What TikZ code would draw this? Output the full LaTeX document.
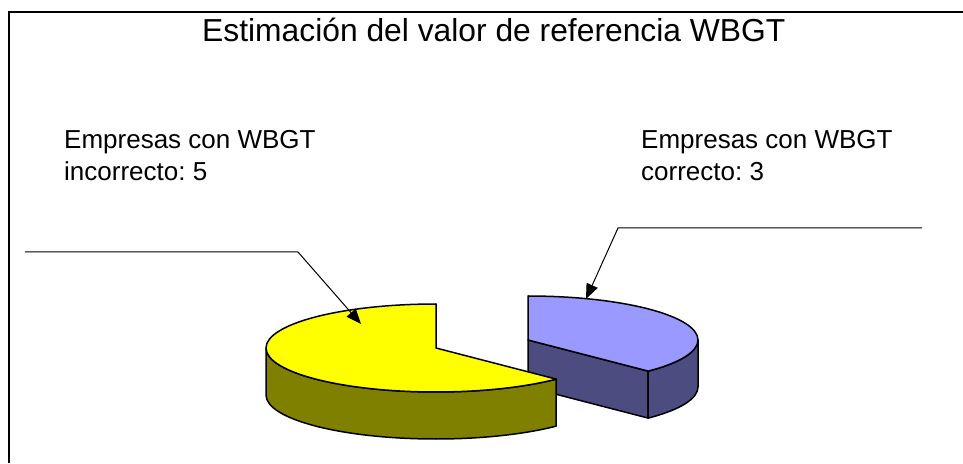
\documentclass[tikz,border=0pt]{standalone}
\usepackage{fontspec}
\setmainfont{Liberation Sans}
\usetikzlibrary{arrows.meta}
\frenchspacing
\definecolor{amarillo}{HTML}{FFFF00}
\definecolor{oliva}{HTML}{808000}
\definecolor{lila}{HTML}{9999FF}
\definecolor{azul}{HTML}{4C4C80}
\tikzset{
	cara/.style = {draw = black, line width = 1.5pt, line join = round},
	guia/.style = {draw = black, line width = 1pt},
	flecha/.style = {guia, -{Triangle[length = 15pt, width = 12pt]}},
	rotulo/.style = {inner sep = 0pt, align = left, font = \fontsize{26}{32}\selectfont}
}
\begin{document}
\begin{tikzpicture}[x = 1pt, y = 1pt]
		\useasboundingbox (0, 0) rectangle (963, 463);
		%%%%%%%%%%%%%
		\draw [line width = 1.2pt] (9, 0) -- (9, 451) -- (963, 451);
		\node [inner sep = 0pt, anchor = base west, font = \fontsize{31.8}{38}\selectfont] (titulo) at (202, 421) {Estimación del valor de referencia WBGT};
		%%%%%%%%%%%%%
		% porción correcta (separada)
		\fill [azul, cara] (528, 123) -- (528, 76) -- (648.2, 44.9) -- (648.2, 91.9) -- cycle;
		\fill [azul, cara] (648.2, 91.9) -- ++(0, -47) arc [start angle = -45, end angle = 0, x radius = 170, y radius = 44] -- ++(0, 47) arc [start angle = 0, end angle = -45, x radius = 170, y radius = 44] -- cycle;
		\fill [lila, cara] (528, 123) -- (528, 167) arc [start angle = 90, end angle = -45, x radius = 170, y radius = 44] -- cycle;
		% porción incorrecta
		\fill [oliva, cara] (266, 115) -- ++(0, -47) arc [start angle = 180, end angle = 315, x radius = 170, y radius = 44] -- ++(0, 47) arc [start angle = 315, end angle = 180, x radius = 170, y radius = 44] -- cycle;
		\fill [amarillo, cara] (436, 115) -- (436, 159) arc [start angle = 90, end angle = 315, x radius = 170, y radius = 44] -- cycle;
		%%%%%%%%%%%%%
		\node [rotulo, anchor = base west] (inc) at (64, 282) {Empresas con WBGT\\incorrecto: 5};
		\node [rotulo, anchor = base west] (cor) at (641, 282) {Empresas con WBGT\\correcto: 3};
		\coordinate (a) at (25, 211);
		\coordinate (b) at (298, 211);
		\coordinate (c) at (361, 139);
		\coordinate (d) at (922, 235);
		\coordinate (e) at (618, 235);
		\coordinate (f) at (586, 164);
		\draw [flecha] (a) -- (b) -- (c);
		\draw [flecha] (d) -- (e) -- (f);
		%%%%%%%%%%%%%%
	\end{tikzpicture}
\end{document}
